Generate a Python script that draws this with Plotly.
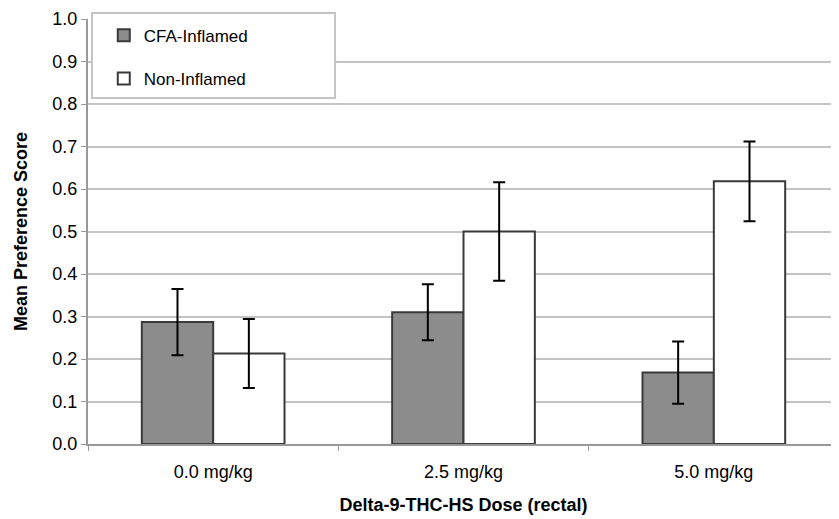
import plotly.graph_objects as go

categories = ["0.0 mg/kg", "2.5 mg/kg", "5.0 mg/kg"]
cfa_values = [0.287, 0.310, 0.168]
cfa_errors = [0.078, 0.066, 0.073]
non_values = [0.213, 0.500, 0.618]
non_errors = [0.081, 0.116, 0.094]
y_ticks = [0.0, 0.1, 0.2, 0.3, 0.4, 0.5, 0.6, 0.7, 0.8, 0.9, 1.0]

FONT = "Liberation Sans, Arial, sans-serif"

fig = go.Figure()
fig.add_trace(go.Bar(
    x=categories, y=cfa_values, name="CFA-Inflamed", legendgroup="a",
    marker=dict(color="#8c8c8c", line=dict(color="#3a3a3a", width=2)),
    error_y=dict(type="data", array=cfa_errors, color="black", thickness=2, width=6),
))
fig.add_trace(go.Bar(
    x=categories, y=non_values, name="Non-Inflamed", legendgroup="b",
    marker=dict(color="white", line=dict(color="#3a3a3a", width=2)),
    error_y=dict(type="data", array=non_errors, color="black", thickness=2, width=6),
))

# the page body has an 8px margin, so the figure is sized to fill the window from there
fig.update_layout(
    width=831, height=511,
    margin=dict(l=80, r=0, t=11, b=75),
    paper_bgcolor="white", plot_bgcolor="white",
    barmode="group", bargap=0.43, bargroupgap=0,
    font=dict(family=FONT, size=18, color="black"),
    showlegend=True,
    legend=dict(
        x=0.021, y=1.003, xanchor="left", yanchor="top",
        bgcolor="rgba(0,0,0,0)", borderwidth=0,
        font=dict(family=FONT, size=17, color="black"),
        traceorder="grouped", tracegroupgap=18,
    ),
    shapes=[dict(
        type="rect", xref="paper", yref="paper",
        x0=0.0053, x1=0.329, y0=0.814, y1=1.014,
        line=dict(color="#c4c4c4", width=2), fillcolor="white", layer="above",
    )],
)
fig.update_xaxes(
    automargin=False,
    showgrid=False, showline=True, linecolor="#999999", linewidth=2,
    ticks="outside", tickson="boundaries", ticklen=5, tickcolor="#999999",
    tickfont=dict(family=FONT, size=18), zeroline=False, ticklabelstandoff=10,
    title=dict(text="<b>Delta-9-THC-HS Dose (rectal)</b>", font=dict(family=FONT, size=18), standoff=18),
)
fig.update_yaxes(
    automargin=False,
    range=[0, 1.0], tickvals=y_ticks, ticktext=[f"{v:.1f}" for v in y_ticks],
    showgrid=True, gridcolor="#c4c4c4", gridwidth=2,
    showline=True, linecolor="#999999", linewidth=2,
    ticks="outside", ticklen=5, tickcolor="#999999", zeroline=False,
    tickfont=dict(family=FONT, size=18),
    title=dict(text="<b>Mean Preference Score</b>", font=dict(family=FONT, size=18), standoff=20),
)

fig.write_html("out.html")
